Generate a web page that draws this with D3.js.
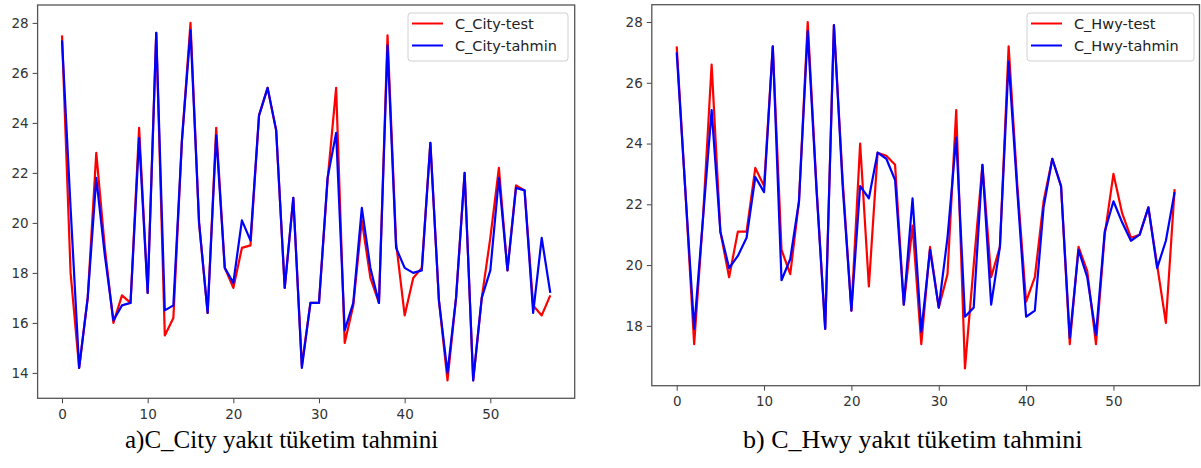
<!DOCTYPE html>
<html>
<head>
<meta charset="utf-8">
<script src="https://cdn.jsdelivr.net/npm/d3@7"></script>
<style>
  html, body { margin: 0; padding: 0; background: #fff; }
  svg { display: block; }
  .tick text { font-family: "DejaVu Sans", sans-serif; font-size: 13.5px; fill: #333; }
  .legend text { font-family: "DejaVu Sans", sans-serif; font-size: 14.5px; fill: #222; }
  .caption { font-family: "Liberation Serif", "Times New Roman", serif; fill: #000; }
</style>
</head>
<body>
<svg id="chart" width="1201" height="468"></svg>
<script>
// Index of each test sample (0..57)
const sampleIndex = d3.range(58);

// City fuel consumption: measured vs predicted
const cityTest = [
  27.5, 18.0, 14.2, 17.0, 22.8, 19.0, 16.0, 17.1, 16.8, 23.8,
  17.2, 27.6, 15.5, 16.2, 23.3, 28.0, 20.0, 16.4, 23.8, 18.2,
  17.4, 19.0, 19.1, 24.3, 25.4, 23.7, 17.4, 21.0, 14.3, 16.8,
  16.8, 21.7, 25.4, 15.2, 16.7, 20.1, 17.8, 16.8, 27.5, 19.2,
  16.3, 17.8, 18.2, 23.2, 16.9, 13.7, 17.0, 22.0, 13.7, 17.0,
  19.4, 22.2, 18.1, 21.5, 21.3, 16.7, 16.3, 17.1
];
const cityPred = [
  27.3, 20.6, 14.2, 17.0, 21.8, 18.7, 16.1, 16.7, 16.8, 23.4,
  17.2, 27.6, 16.5, 16.7, 23.3, 27.7, 20.0, 16.4, 23.5, 18.2,
  17.6, 20.1, 19.3, 24.3, 25.4, 23.7, 17.4, 21.0, 14.2, 16.8,
  16.8, 21.8, 23.6, 15.7, 16.8, 20.6, 18.2, 16.8, 27.1, 19.0,
  18.2, 18.0, 18.1, 23.2, 16.9, 14.0, 17.0, 22.0, 13.7, 17.0,
  18.1, 21.8, 18.1, 21.4, 21.3, 16.4, 19.4, 17.2
];

// Highway fuel consumption: measured vs predicted
const hwyTest = [
  27.2, 22.4, 17.4, 21.5, 26.6, 21.1, 19.6, 21.1, 21.1, 23.2,
  22.6, 27.2, 20.5, 19.7, 22.1, 28.0, 22.6, 17.9, 27.9, 22.8,
  18.5, 24.0, 19.3, 23.7, 23.6, 23.3, 18.7, 21.3, 17.4, 20.6,
  18.6, 19.7, 25.1, 16.6, 20.0, 23.3, 19.6, 20.6, 27.2, 22.6,
  18.8, 19.6, 22.1, 23.5, 22.6, 17.4, 20.6, 19.8, 17.4, 21.0,
  23.0, 21.7, 20.9, 21.0, 21.9, 20.0, 18.1, 22.5
];
const hwyPred = [
  27.0, 22.4, 17.9, 21.5, 25.1, 21.1, 19.9, 20.3, 20.9, 22.9,
  22.4, 27.2, 19.5, 20.2, 22.1, 27.7, 22.5, 17.9, 27.9, 22.6,
  18.5, 22.6, 22.2, 23.7, 23.5, 22.8, 18.7, 22.2, 17.8, 20.5,
  18.6, 20.9, 24.2, 18.3, 18.6, 23.3, 18.7, 20.6, 26.7, 22.4,
  18.3, 18.5, 21.9, 23.5, 22.6, 17.6, 20.5, 19.6, 17.7, 21.1,
  22.1, 21.4, 20.8, 21.0, 21.9, 19.9, 20.8, 22.4
];

const xTicks = [0, 10, 20, 30, 40, 50];
const cityYTicks = [14, 16, 18, 20, 22, 24, 26, 28];
const hwyYTicks = [18, 20, 22, 24, 26, 28];

const svg = d3.select("#chart");

// Axis limits padded by 5% of the data span on each side
function padded(values) {
  const [lo, hi] = d3.extent(values);
  const m = (hi - lo) * 0.05;
  return [lo - m, hi + m];
}

function drawPanel(cfg) {
  const g = svg.append("g");
  const x = d3.scaleLinear().domain(padded(sampleIndex)).range([cfg.left, cfg.right]);
  const y = d3.scaleLinear().domain(padded(cfg.test.concat(cfg.pred))).range([cfg.bottom, cfg.top]);

  // axes
  const xAxis = d3.axisBottom(x).tickValues(xTicks).tickSize(5).tickPadding(6).tickSizeOuter(0);
  const yAxis = d3.axisLeft(y).tickValues(cfg.yTicks).tickSize(5).tickPadding(4).tickSizeOuter(0);
  const gx = g.append("g").attr("transform", `translate(0,${cfg.bottom})`).call(xAxis);
  const gy = g.append("g").attr("transform", `translate(${cfg.left},0)`).call(yAxis);
  [gx, gy].forEach(a => {
    a.select(".domain").remove();
    a.selectAll(".tick line").attr("stroke", "#444").attr("stroke-width", 1);
  });

  // series
  const line = vals => d3.line().x((d, i) => x(sampleIndex[i])).y(d => y(d))(vals);
  g.append("path").attr("d", line(cfg.test)).attr("fill", "none")
    .attr("stroke", "#ff0000").attr("stroke-width", 2.2).attr("stroke-linejoin", "round");
  g.append("path").attr("d", line(cfg.pred)).attr("fill", "none")
    .attr("stroke", "#0000ff").attr("stroke-width", 2.2).attr("stroke-linejoin", "round");

  // frame
  g.append("rect")
    .attr("x", cfg.left).attr("y", cfg.top)
    .attr("width", cfg.right - cfg.left).attr("height", cfg.bottom - cfg.top)
    .attr("fill", "none").attr("stroke", "#555").attr("stroke-width", 1.3);

  // legend
  const lg = g.append("g").attr("class", "legend");
  lg.append("rect")
    .attr("x", cfg.legendX).attr("y", 13)
    .attr("width", cfg.legendW).attr("height", 48)
    .attr("rx", 3).attr("fill", "#fff").attr("fill-opacity", 0.85)
    .attr("stroke", "#d0d0d0").attr("stroke-width", 1);
  const entries = [
    { label: cfg.labels[0], color: "#ff0000", yy: 23.5 },
    { label: cfg.labels[1], color: "#0000ff", yy: 45.5 }
  ];
  entries.forEach(e => {
    lg.append("line")
      .attr("x1", cfg.legendX + 4).attr("x2", cfg.legendX + 35)
      .attr("y1", e.yy).attr("y2", e.yy)
      .attr("stroke", e.color).attr("stroke-width", 2);
    lg.append("text")
      .attr("x", cfg.legendX + 47).attr("y", e.yy + 5)
      .text(e.label);
  });

  // caption
  svg.append("text").attr("class", "caption")
    .attr("x", cfg.captionX).attr("y", 448)
    .style("font-size", cfg.captionSize + "px")
    .text(cfg.caption);
}

drawPanel({
  left: 37.6, right: 574.7, top: 5, bottom: 398.3,
  test: cityTest, pred: cityPred, yTicks: cityYTicks,
  labels: ["C_City-test", "C_City-tahmin"],
  legendX: 408, legendW: 160,
  caption: "a)C_City yakıt tüketim tahmini", captionX: 125, captionSize: 25
});

drawPanel({
  left: 651.8, right: 1199.5, top: 4.7, bottom: 385.7,
  test: hwyTest, pred: hwyPred, yTicks: hwyYTicks,
  labels: ["C_Hwy-test", "C_Hwy-tahmin"],
  legendX: 1027, legendW: 167,
  caption: "b) C_Hwy yakıt tüketim tahmini", captionX: 743, captionSize: 26
});
</script>
</body>
</html>
